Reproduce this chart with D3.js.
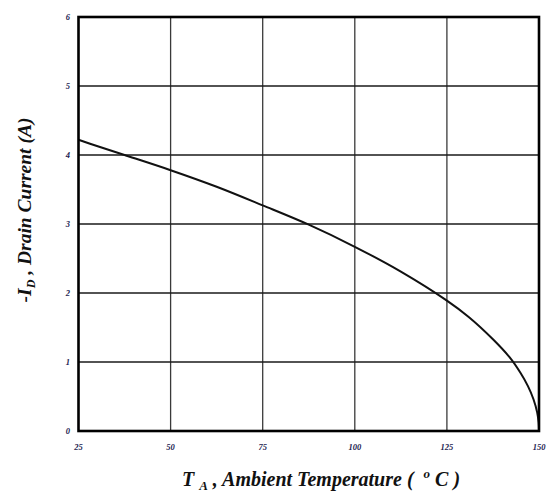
<!DOCTYPE html>
<html><head><meta charset="utf-8">
<script src="https://cdn.jsdelivr.net/npm/d3@7"></script>
<style>body{margin:0;background:#fff}svg{display:block}</style>
</head><body>
<script>
const temps    = [25, 30, 37.5, 50, 62.5, 75, 87.5, 100, 112.5, 125, 131, 137.5, 142, 145, 147, 148.5, 149.5, 149.9, 150];
const currents = [4.22, 4.13, 4.00, 3.78, 3.54, 3.27, 2.99, 2.67, 2.31, 1.89, 1.65, 1.33, 1.07, 0.84, 0.65, 0.46, 0.27, 0.12, 0];
const xTicks = [25, 50, 75, 100, 125, 150];
const yTicks = [0, 1, 2, 3, 4, 5, 6];

const W = 547, H = 492;
const L = 78.5, R = 539, T = 17, B = 431;
const svg = d3.select("body").append("svg").attr("width", W).attr("height", H);
const x = d3.scaleLinear().domain([25, 150]).range([L, R]);
const y = d3.scaleLinear().domain([0, 6]).range([B, T]);

// grid
svg.append("g").selectAll("line").data(xTicks.slice(1, -1)).join("line")
  .attr("x1", d => x(d)).attr("x2", d => x(d)).attr("y1", T).attr("y2", B)
  .attr("stroke", "#3a3a3a").attr("stroke-width", 1.3);
svg.append("g").selectAll("line").data(yTicks.slice(1, -1)).join("line")
  .attr("y1", d => y(d)).attr("y2", d => y(d)).attr("x1", L).attr("x2", R)
  .attr("stroke", "#1a1a1a").attr("stroke-width", 1.3);

// curve
const data = temps.map((t, i) => [t, currents[i]]);
svg.append("path").datum(data)
  .attr("d", d3.line().x(d => x(d[0])).y(d => y(d[1])).curve(d3.curveCatmullRom.alpha(0.5)))
  .attr("fill", "none").attr("stroke", "#111").attr("stroke-width", 2);

// frame
svg.append("rect").attr("x", L).attr("y", T).attr("width", R - L).attr("height", B - T)
  .attr("fill", "none").attr("stroke", "#000").attr("stroke-width", 2.6);

// tick labels
const tickFont = "'Liberation Serif', 'DejaVu Serif', serif";
svg.append("g").selectAll("text").data(yTicks).join("text")
  .attr("x", 70).attr("y", d => y(d) + 3)
  .attr("text-anchor", "end")
  .attr("font-family", tickFont).attr("font-size", 8.5).attr("font-weight", "bold").attr("font-style", "italic")
  .attr("fill", "#1c1c50").text(d => d);
svg.append("g").selectAll("text").data(xTicks).join("text")
  .attr("x", d => x(d)).attr("y", 450)
  .attr("text-anchor", "middle")
  .attr("font-family", tickFont).attr("font-size", 8.5).attr("font-weight", "bold").attr("font-style", "italic")
  .attr("fill", "#1c1c50").text(d => d);

// x axis title
const xt = svg.append("text").attr("x", 321).attr("y", 486).attr("text-anchor", "middle")
  .attr("font-family", tickFont).attr("font-size", 20).attr("font-weight", "bold").attr("font-style", "italic")
  .attr("fill", "#111").attr("xml:space", "preserve");
xt.append("tspan").text("T ");
xt.append("tspan").attr("font-size", 13).attr("dy", 4).text("A");
xt.append("tspan").attr("dy", -4).text(" , Ambient Temperature (  ");
xt.append("tspan").attr("font-size", 13).attr("dy", -8).text("o");
xt.append("tspan").attr("dy", 8).text(" C )");

// y axis title
const yt = svg.append("text").attr("transform", "translate(31,210) rotate(-90)").attr("text-anchor", "middle")
  .attr("font-family", tickFont).attr("font-size", 19.5).attr("font-weight", "bold").attr("font-style", "italic")
  .attr("fill", "#111");
yt.append("tspan").text("-I");
yt.append("tspan").attr("font-size", 12).attr("dy", 4).text("D");
yt.append("tspan").attr("dy", -4).text(" , Drain Current (A)");
</script>
</body></html>
